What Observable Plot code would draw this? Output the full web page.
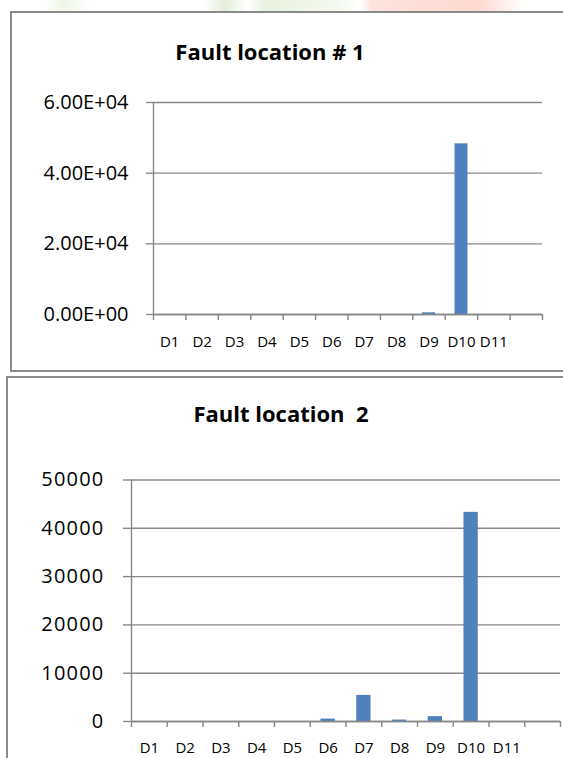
<!DOCTYPE html>
<html><head><meta charset="utf-8">
<script src="https://cdn.jsdelivr.net/npm/d3@7"></script>
<script src="https://cdn.jsdelivr.net/npm/@observablehq/plot@0.6"></script>
<style>
body{margin:0;background:#fff;}
#page{position:relative;width:563px;height:758px;overflow:hidden;font-family:"Open Sans",sans-serif;background:#fff;}
.box{position:absolute;border:2px solid #8a8a8a;box-sizing:border-box;}
.title{position:absolute;font-weight:bold;font-size:22px;white-space:pre;transform:translateX(-50%);line-height:1;color:#000;}
.plot{position:absolute;left:0;}
#p2 g[aria-label="y-axis tick label"] text{letter-spacing:1.2px;}
</style></head>
<body><div id="page">
<div style="position:absolute;left:0;top:0;width:563px;height:12px;background:linear-gradient(90deg,#fff 0%,#fff 8%,#eef5e8 11%,#fff 16%,#fff 36%,#e3efd9 40%,#fff 44%,#e8f3de 47%,#f4f9ee 60%,#fff 64%,#fde3dc 66%,#fdd9d1 85%,#fff 93%)"></div>
<div class="box" style="left:10px;top:11px;width:600px;height:361px"></div>
<div class="box" style="left:6px;top:376px;width:600px;height:420px"></div>
<div class="title" id="t1" style="left:270px;top:40px">Fault location # 1</div>
<div class="title" id="t2" style="left:281px;top:402px">Fault location  2</div>
<div class="plot" id="p1" style="top:0px"></div>
<div class="plot" id="p2" style="top:377px"></div>
</div>
<script>
const categories = ["D1","D2","D3","D4","D5","D6","D7","D8","D9","D10","D11",""];
const fault1 = [0,0,0,0,0,0,0,0,480,48300,0,0];
const fault2 = [0,0,0,0,0,500,5400,300,1000,43300,0,0];
const yTicks1 = [0,20000,40000,60000];
const yTicks2 = [0,10000,20000,30000,40000,50000];
const barColor = "#4F81BD";
const gridColor = "#888888";

function expFmt(d){
  const [m,e] = d.toExponential(2).split("e");
  const sign = e[0];
  const digits = e.slice(1).padStart(2,"0");
  return (m + "E" + sign + digits).toUpperCase();
}

function makeChart(values, yTicks, yFmt, opts){
  const data = categories.map((c,i)=>({i, c, v: values[i]}));
  const n = categories.length;
  return Plot.plot({
    width: 563,
    height: opts.height,
    marginTop: opts.mt, marginBottom: opts.mb, marginLeft: opts.ml, marginRight: opts.mr,
    style: {fontFamily: '"Open Sans", sans-serif', background: "transparent", color: "#000"},
    x: {domain: [0, n]},
    y: {domain: [0, yTicks[yTicks.length-1]]},
    marks: [
      Plot.gridY(yTicks, {stroke: gridColor, strokeOpacity: 1, strokeWidth: 1.4}),
      Plot.rectY(data, {x1: d => d.i + 0.3, x2: d => d.i + 0.7, y: "v", fill: barColor}),
      Plot.ruleY([0], {stroke: gridColor, strokeWidth: 1.4}),
      Plot.ruleX([0], {stroke: gridColor, strokeWidth: 1.4}),
      Plot.axisY(yTicks, {tickFormat: yFmt, tickSize: opts.yts, tickPadding: opts.ytp, fontSize: opts.yfs, stroke: gridColor, strokeWidth: 1.4, label: null}),
      Plot.axisX(d3.range(n + 1), {tickSize: 6, tickFormat: () => "", stroke: gridColor, strokeWidth: 1.4, label: null}),
      Plot.axisX(data.map(d => d.i + 0.5), {tickSize: 0, tickPadding: opts.xtp, tickFormat: d => categories[Math.floor(d)], fontSize: opts.xfs, label: null})
    ]
  });
}

document.getElementById("p1").appendChild(makeChart(fault1, yTicks1, expFmt,
  {height: 370, mt: 102, mb: 56, ml: 153, mr: 21, yts: 7, ytp: 18, yfs: 20, xfs: 15, xtp: 22}));
document.getElementById("p2").appendChild(makeChart(fault2, yTicks2, d => String(d),
  {height: 381, mt: 102.5, mb: 37, ml: 131, mr: 3, yts: 8, ytp: 19, yfs: 20, xfs: 15, xtp: 21}));
</script>
</body></html>
